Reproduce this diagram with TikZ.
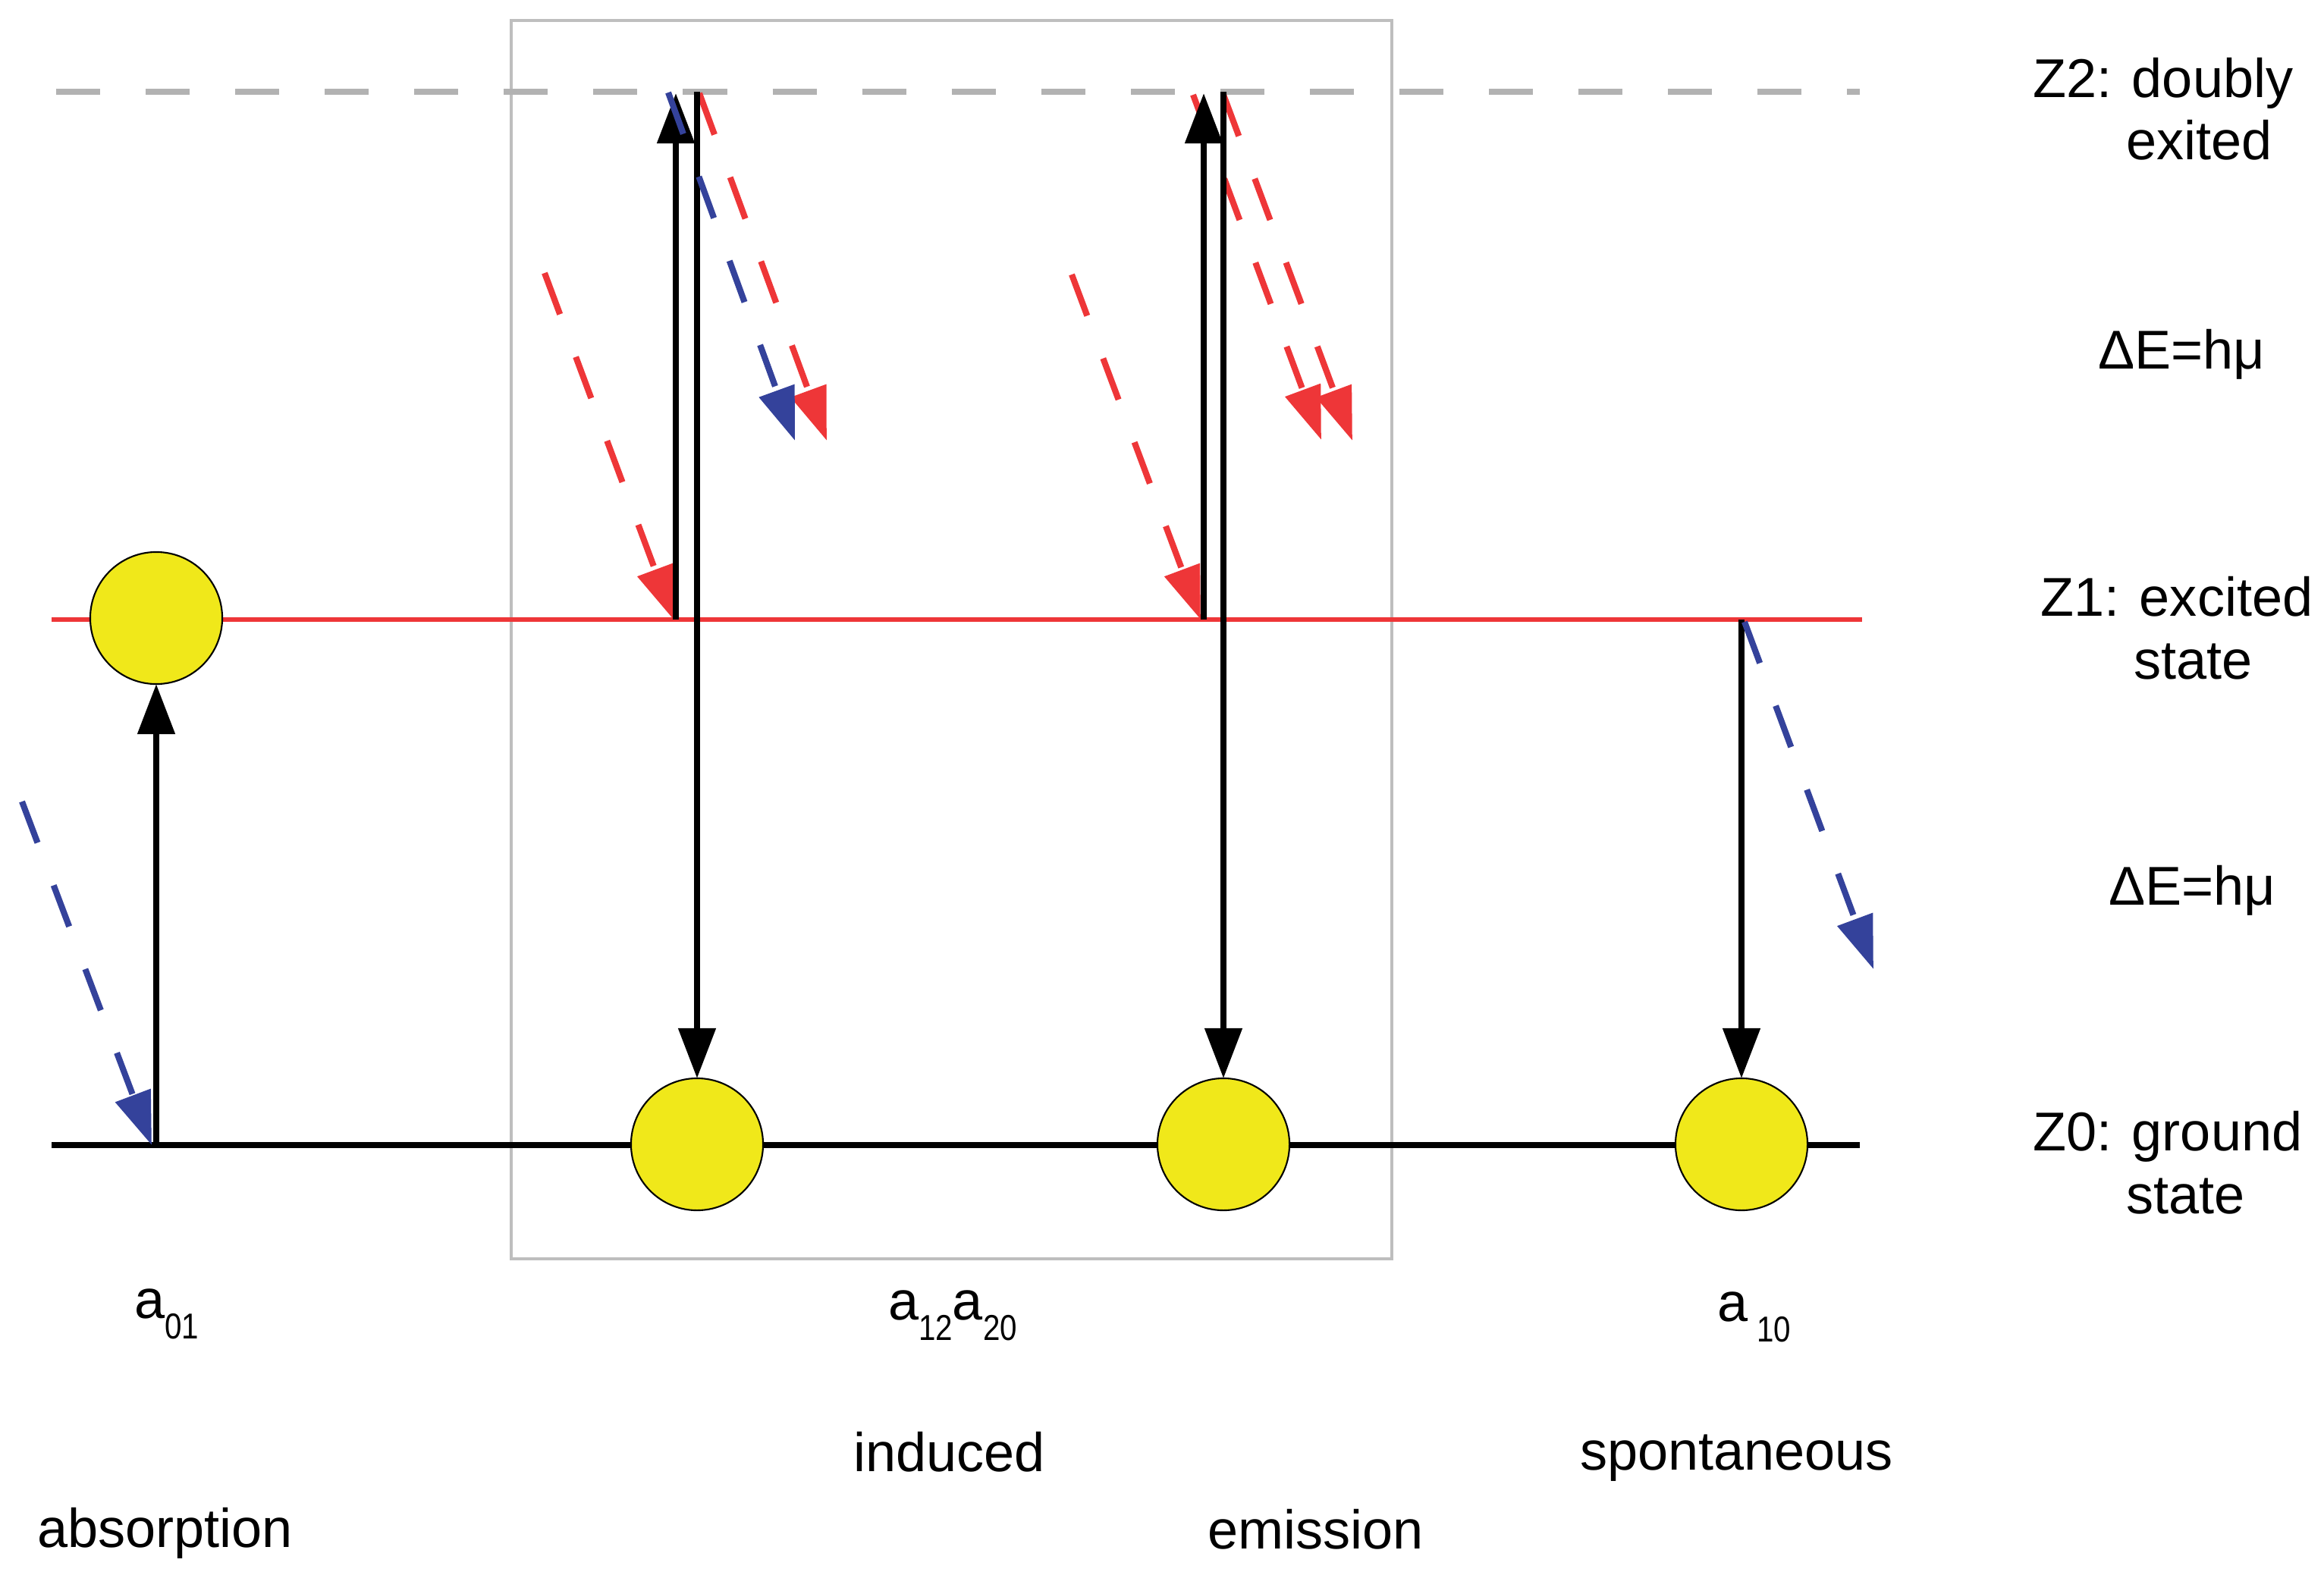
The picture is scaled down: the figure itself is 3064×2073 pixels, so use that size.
\documentclass[tikz,border=0pt]{standalone}
\usepackage{fontspec}
\setmainfont{Liberation Sans}
\usetikzlibrary{arrows.meta}
\definecolor{sunyellow}{RGB}{240,232,26}
\definecolor{photonred}{RGB}{238,54,56}
\definecolor{photonblue}{RGB}{52,66,155}
\definecolor{levelgray}{RGB}{178,178,178}
\definecolor{framegray}{RGB}{190,190,190}
\newcommand{\lowidx}[1]{\raisebox{-0.27cm}{\scalebox{0.85}[1]{\fontsize{13.5}{13.5}\selectfont #1}}}
\begin{document}
\begin{tikzpicture}[x=0.01cm, y=-0.01cm,
  every node/.style={inner sep=0pt, outer sep=0pt},
  lbl/.style={anchor=base west, font=\fontsize{20.5}{23.5}\selectfont},
  atom/.style={circle, draw=black, line width=0.6pt, fill=sunyellow, minimum size=1.74cm},
  blackarrow/.style={draw=black, line width=2.3pt, -{Triangle[length=0.66cm,width=0.48cm]}},
  photon/.style={line width=2.3pt, dash pattern=on 0.58cm off 0.6cm, -{Triangle[length=0.7cm,width=0.48cm]}},
  redphoton/.style={photon, draw=photonred},
  bluephoton/.style={photon, draw=photonblue}]
\useasboundingbox (0,0) rectangle (3064,2073);

% frame around induced emission
\draw[framegray, line width=1.1pt] (674,27) rectangle (1835,1660);

% energy levels
\coordinate (z2L) at (74,121);  \coordinate (z2R) at (2452,121);
\coordinate (z1L) at (68,817);  \coordinate (z1R) at (2455,817);
\coordinate (z0L) at (68,1510); \coordinate (z0R) at (2452,1510);
\draw[levelgray, line width=2pt, dash pattern=on 0.58cm off 0.6cm] (z2L) -- (z2R);
\draw[photonred, line width=1.7pt] (z1L) -- (z1R);
\draw[black, line width=2.3pt] (z0L) -- (z0R);

% atoms
\node[atom] (c1) at (206,815) {};
\node[atom] (c2) at (919,1509) {};
\node[atom] (c3) at (1613,1509) {};
\node[atom] (c4) at (2296,1509) {};

% absorption
\coordinate (absB) at (206,1510);
\coordinate (absP0) at (29,1057);
\coordinate (absP1) at (200,1510);
\draw[blackarrow] (absB) -- (c1.south);
\draw[bluephoton] (absP0) -- (absP1);

% induced emission, group 1
\coordinate (g1up0) at (891,817);  \coordinate (g1up1) at (891,123);
\coordinate (g1dn0) at (919,121);
\coordinate (g1r0) at (718,360);   \coordinate (g1r1) at (888,817);
\coordinate (g1b0) at (881,122);   \coordinate (g1b1) at (1048,581);
\coordinate (g1s0) at (922,123);   \coordinate (g1s1) at (1090,581);
\draw[redphoton] (g1r0) -- (g1r1);
\draw[redphoton] (g1s0) -- (g1s1);
\draw[blackarrow] (g1up0) -- (g1up1);
\draw[blackarrow] (g1dn0) -- (c2.north);
\draw[bluephoton] (g1b0) -- (g1b1);

% induced emission, group 2
\coordinate (g2up0) at (1587,817); \coordinate (g2up1) at (1587,123);
\coordinate (g2dn0) at (1613,121);
\coordinate (g2r0) at (1413,362);  \coordinate (g2r1) at (1583,817);
\coordinate (g2a0) at (1573,125);  \coordinate (g2a1) at (1742,580);
\coordinate (g2b0) at (1613,125);  \coordinate (g2b1) at (1783,581);
\draw[redphoton] (g2r0) -- (g2r1);
\draw[redphoton] (g2a0) -- (g2a1);
\draw[redphoton] (g2b0) -- (g2b1);
\draw[blackarrow] (g2up0) -- (g2up1);
\draw[blackarrow] (g2dn0) -- (c3.north);

% spontaneous emission
\coordinate (spT) at (2296,817);
\coordinate (spP0) at (2300,820); \coordinate (spP1) at (2470,1278);
\draw[blackarrow] (spT) -- (c4.north);
\draw[bluephoton] (spP0) -- (spP1);

% level labels (base anchor = baseline of the last line)
\node[lbl, align=left] (tz2) at (2680,211) {Z2: doubly\\\hspace*{1.23cm}exited};
\node[lbl] (dE1) at (2766,486) {ΔE=hμ};
\node[lbl, align=left] (tz1) at (2690,895) {Z1: excited\\\hspace*{1.23cm}state};
\node[lbl] (dE2) at (2780,1193) {ΔE=hμ};
\node[lbl, align=left] (tz0) at (2680,1600) {Z0: ground\\\hspace*{1.23cm}state};

% coefficient and process labels
\node[lbl] (a01) at (177,1738) {a\lowidx{01}};
\node[lbl] (a1220) at (1171,1740) {a\lowidx{12}a\lowidx{20}};
\node[lbl] (a10) at (2264,1742) {a\,\lowidx{10}};
\node[lbl] (ind) at (1125,1940) {induced};
\node[lbl] (spo) at (2083,1938) {spontaneous};
\node[lbl] (abs) at (49,2040) {absorption};
\node[lbl] (emi) at (1592,2042) {emission};
\end{tikzpicture}
\end{document}
